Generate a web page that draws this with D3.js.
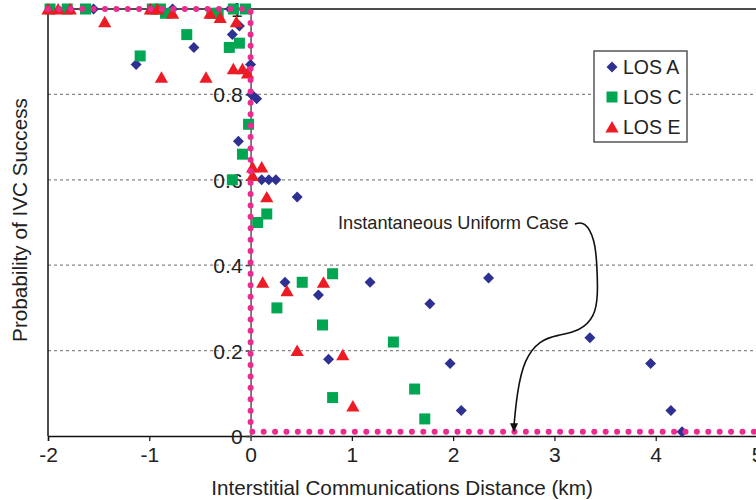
<!DOCTYPE html>
<html>
<head>
<meta charset="utf-8">
<script src="https://cdn.jsdelivr.net/npm/d3@7"></script>
<style>
  body { margin: 0; background: #fff; }
  svg text { font-family: "Liberation Sans Narrow", "Liberation Sans", Arial, sans-serif; fill: #222; }
</style>
</head>
<body>
<svg width="756" height="500"></svg>
<script>
// LOS A (diamonds): [distance km, probability]
var losA = [[-1.55,1.0],[-0.77,1.0],[-0.20,1.0],[-1.13,0.87],[-0.56,0.91],[-0.18,0.94],
  [-0.11,0.96],[0.0,0.87],[0.01,0.80],[0.06,0.79],[-0.12,0.69],[0.11,0.60],[0.18,0.60],
  [0.25,0.60],[0.46,0.56],[0.34,0.36],[0.67,0.33],[1.18,0.36],[1.77,0.31],[2.35,0.37],
  [0.77,0.18],[1.97,0.17],[2.08,0.06],[3.35,0.23],[3.95,0.17],[4.15,0.06],[4.26,0.01]];

// LOS C (squares)
var losC = [[-1.98,1.0],[-1.81,1.0],[-1.63,1.0],[-0.97,1.0],[-0.89,1.0],[-0.84,0.99],
  [-0.38,0.99],[-0.32,0.99],[-0.17,1.0],[-0.05,1.0],[-1.09,0.89],[-0.63,0.94],[-0.21,0.91],
  [-0.11,0.92],[-0.02,0.73],[-0.08,0.66],[-0.18,0.60],[0.16,0.52],[0.07,0.50],[0.51,0.36],
  [0.81,0.38],[0.26,0.30],[0.71,0.26],[1.41,0.22],[1.62,0.11],[0.81,0.09],[1.72,0.04]];

// LOS E (triangles)
var losE = [[-2.0,1.0],[-1.90,1.0],[-1.78,1.0],[-0.99,1.0],[-0.92,1.0],[-0.77,0.99],
  [-0.40,0.99],[-0.30,0.98],[-0.14,0.97],[-1.44,0.97],[-0.88,0.84],[-0.44,0.84],[-0.17,0.86],
  [-0.08,0.86],[-0.03,0.85],[0.02,0.63],[0.11,0.63],[0.02,0.61],[0.16,0.56],[0.12,0.36],
  [0.36,0.34],[0.72,0.36],[0.46,0.20],[0.91,0.19],[1.01,0.07]];

// instantaneous uniform case (step)
var uniform = [[-2,1],[0,1],[0,0.01],[5.1,0.01]];

var xTicks = [-2,-1,0,1,2,3,4,5];
var yTicks = [0,0.2,0.4,0.6,0.8,1];
var gridTicks = [0.2,0.4,0.6,0.8];

var font = "'Liberation Sans Narrow', 'Liberation Sans', Arial, sans-serif";
var svg = d3.select("svg");

var x = d3.scaleLinear().domain([-2, 5]).range([48, 757]),
    y = d3.scaleLinear().domain([0, 1]).range([436, 9]);

// grid
svg.append("g").selectAll("line")
  .data(gridTicks)
  .enter().append("line")
    .attr("x1", x(-2)).attr("x2", x(5))
    .attr("y1", function(d) { return y(d); })
    .attr("y2", function(d) { return y(d); })
    .attr("stroke", "#888")
    .attr("stroke-width", 1.2)
    .attr("stroke-dasharray", "3,3");

// frame: top and left
svg.append("line")
  .attr("x1", x(-2)).attr("x2", x(5)).attr("y1", y(1)).attr("y2", y(1))
  .attr("stroke", "#111").attr("stroke-width", 1.5);
svg.append("line")
  .attr("x1", x(-2)).attr("x2", x(-2)).attr("y1", y(1)).attr("y2", y(0))
  .attr("stroke", "#111").attr("stroke-width", 1.5);

// x axis
var xAxis = svg.append("g")
  .attr("transform", "translate(0," + y(0) + ")")
  .call(d3.axisBottom(x).tickValues(xTicks).tickSize(5).tickFormat(function(d) { return String(d); }));
xAxis.select(".domain").attr("stroke", "#111").attr("stroke-width", 1.5);
xAxis.selectAll(".tick line").attr("stroke", "#111").attr("stroke-width", 1.2);
xAxis.selectAll(".tick text")
  .attr("y", 11)
  .style("font-size", "21px")
  .style("font-family", font)
  .attr("fill", "#222");

// y axis at x = 0
var yAxis = svg.append("g")
  .attr("transform", "translate(" + x(0) + ",0)")
  .call(d3.axisLeft(y).tickValues(yTicks).tickSize(5)
    .tickFormat(function(d) { return d === 0 || d === 1 ? String(d) : d3.format(".1f")(d); }));
yAxis.select(".domain").attr("stroke", "#555").attr("stroke-width", 1.5);
yAxis.selectAll(".tick line").attr("stroke", "#333").attr("stroke-width", 1.2);
yAxis.selectAll(".tick text")
  .attr("x", -8)
  .attr("dy", "0.36em")
  .style("font-size", "21px")
  .style("font-family", font)
  .attr("fill", "#222");

// markers
function diamond(s) { return "M0," + (-s) + "L" + s + ",0L0," + s + "L" + (-s) + ",0Z"; }
function square(s) { return "M" + (-s) + "," + (-s) + "h" + (2*s) + "v" + (2*s) + "h" + (-2*s) + "Z"; }
function triangle(s) { return "M0," + (-s) + "L" + (s*1.1) + "," + (s*0.9) + "L" + (-s*1.1) + "," + (s*0.9) + "Z"; }

var series = [
  {data: losA, color: "#2e3192", shape: diamond, size: 5.5},
  {data: losC, color: "#00a651", shape: square, size: 5.5},
  {data: losE, color: "#ed1c24", shape: triangle, size: 6}
];

series.forEach(function(s) {
  svg.append("g").selectAll("path")
    .data(s.data)
    .enter().append("path")
      .attr("d", s.shape(s.size))
      .attr("transform", function(d) { return "translate(" + x(d[0]) + "," + y(d[1]) + ")"; })
      .attr("fill", s.color);
});

// uniform case dotted step
var line = d3.line()
  .x(function(d) { return x(d[0]); })
  .y(function(d) { return y(d[1]); });
svg.append("path")
  .datum(uniform)
  .attr("d", line)
  .attr("fill", "none")
  .attr("stroke", "#ec2a8f")
  .attr("stroke-width", 6)
  .attr("stroke-linecap", "round")
  .attr("stroke-dasharray", "0,11.4");

// annotation
svg.append("text")
  .attr("x", 338).attr("y", 229)
  .style("font-size", "18.2px")
  .text("Instantaneous Uniform Case");

var curve = [[3.203,0.4965],[3.30,0.503],[3.40,0.46],[3.42,0.40],[3.43,0.33],[3.40,0.28],
  [3.25,0.245],[3.03,0.236],[2.86,0.225],[2.70,0.18],[2.63,0.10],[2.601,0.025]];
svg.append("path")
  .datum(curve)
  .attr("d", d3.line().curve(d3.curveBasis)
    .x(function(d) { return x(d[0]); })
    .y(function(d) { return y(d[1]); }))
  .attr("fill", "none")
  .attr("stroke", "#111")
  .attr("stroke-width", 1.6);
var tipX = x(2.601), tipY = y(0.009);
svg.append("path")
  .attr("d", "M" + tipX + "," + tipY + "l-4,-9l8,0Z")
  .attr("fill", "#111");

// legend
var legend = svg.append("g").attr("transform", "translate(594,51)");
legend.append("rect")
  .attr("width", 93).attr("height", 91)
  .attr("fill", "#fff").attr("stroke", "#555").attr("stroke-width", 1.5);
var legendNames = ["LOS A", "LOS C", "LOS E"];
legendNames.forEach(function(name, i) {
  var s = series[i];
  legend.append("path")
    .attr("d", s.shape(s.size))
    .attr("transform", "translate(18," + (16 + i * 30) + ")")
    .attr("fill", s.color);
  legend.append("text")
    .attr("x", 29).attr("y", 16 + i * 30)
    .attr("dy", "0.36em")
    .style("font-size", "19.5px")
    .text(name);
});

// axis titles
svg.append("text")
  .attr("x", 402).attr("y", 495)
  .attr("text-anchor", "middle")
  .style("font-size", "20.7px")
  .text("Interstitial Communications Distance (km)");

svg.append("text")
  .attr("transform", "translate(27,220) rotate(-90)")
  .attr("text-anchor", "middle")
  .style("font-size", "20.7px")
  .text("Probability of IVC Success");
</script>
</body>
</html>
